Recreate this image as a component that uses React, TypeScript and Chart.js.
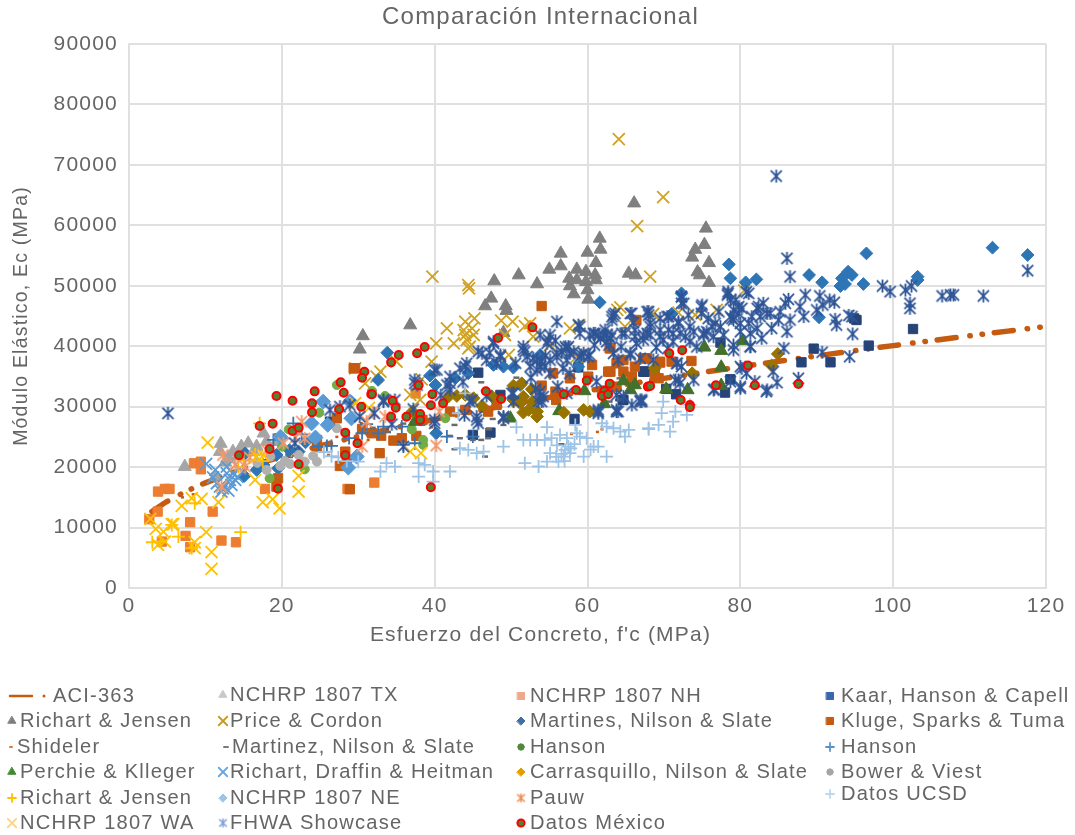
import React, { useEffect, useRef } from "react";
import { Chart, registerables } from "chart.js";
import { drawPoint } from "chart.js/helpers";

Chart.register(...registerables);

type P = number[];

const aci363: P[] = [[3,12650],[5,14324],[7.5,15992],[10,17399],[15,19758],[20,21747],[25,23500],[30,25084],[35,26541],[40,27898],[45,29171],[50,30376],[60,32617],[70,34677],[80,36595],[90,38396],[100,40100],[110,41721],[120,43269]];

const nchrpTX: P[] = [[7.3,20080],[12,23900],[11.9,22560],[13.6,22560],[14.7,23400],[15.6,23940],[16.7,23400],[17.6,25590],[11.3,18430],[13,21500],[14.2,21800],[16.3,22500],[18,24200],[19.3,24200],[12.6,20800]];

const nchrpNH: P[] = [[3.8,15950],[4.7,16390],[5.3,16390],[3.75,12640],[2.66,11380],[8,10880],[7.4,8620],[8,6750],[10.95,12640],[12.1,7850],[14,7570],[8.5,20630],[9.4,20900],[9.4,19640],[17.8,16390],[28.6,16390],[4.3,7680],[32.1,17440],[37.5,32200]];

const kaar: P[] = [[45.7,35630],[48.6,31940],[47.3,25710],[45,25330],[58.3,27970],[64.7,31110],[67.3,35800],[95.2,44340],[102.6,42850],[96.8,40100],[89.6,39600],[91.8,37340],[88,37340],[77.4,40600],[78.7,34530],[78,32330],[71.6,32050],[70.3,32940],[67.4,35800],[26.3,27520],[58.8,36500],[64.6,31100],[67.5,35790],[94.9,44600]];

const richartJensenA: P[] = [[30.6,41700],[30.2,39490],[36.8,43500],[47.8,50780],[51,51770],[53.4,50290],[56.5,55360],[55,52710],[56.5,53260],[61.6,57840],[61.7,56020],[60,55520],[61.1,53810],[58.6,52710],[59.8,52330],[61,51770],[57.6,51220],[58.6,50950],[59.8,50670],[61.1,50950],[57.7,49960],[60,49300],[58.2,48630],[60.1,47750],[47.4,47920],[46.6,46650],[49.3,46650],[49.4,45880],[49,42240],[65.4,52050],[66.3,51770],[75.5,59500],[75.3,56800],[74.1,56000],[73.7,54700],[75.9,53800],[74.4,52270],[74.7,51780],[75.9,50510],[66.1,63670]];

const priceCordon: P[] = [[39.7,51500],[44.4,50120],[44.5,49570],[41.6,42960],[44,44060],[45.2,44610],[43.8,42680],[44.9,42960],[44,41860],[45.1,41860],[44.2,41030],[44.6,39930],[42.5,40480],[40.2,40480],[44.4,39650],[48.7,44230],[50.2,44060],[49.2,41860],[49.7,38550],[39.6,37450],[51.8,43340],[52.5,43780],[52.9,41580],[57.7,42960],[55.1,40200],[58.6,38280],[32.9,35800],[32.4,34970],[30.9,33870],[35,37450],[29.6,36350],[38.3,34530],[36.8,31940],[38.1,31110],[64.3,46430],[64.9,43240],[68.2,51500],[66.5,59880],[64.1,74260],[69.9,64670],[80.5,49190],[76.9,46000],[71.9,45550],[74.1,45170],[68.6,45330],[58.9,43500],[63.9,46000]];

const martines: P[] = [[78.5,53540],[78.7,51230],[80.7,50570],[82.1,51060],[89,51780],[90.7,50570],[94.1,52330],[94.6,51780],[93.3,51230],[93.1,49960],[93.7,50290],[96.5,55360],[96.1,50290],[103.2,51500],[103.2,50950],[113,56300],[117.6,55090],[90.3,44780],[72.3,48750],[71,45330],[61.6,47260],[33.8,38940],[50.3,36460],[51.2,33590],[39.4,35130],[40.1,33590],[44.4,35520],[32.6,34420],[42.7,34690],[47.7,36900],[49,36620],[58.8,36620],[53.8,38550],[40.2,25600],[29.8,21860],[29.1,30840],[22.2,22560],[19.3,22000],[19.5,19800],[15.2,22280],[17.6,20360],[15.1,18540],[16.7,19530],[21,22800],[23.1,24100]];

const kluge: P[] = [[54,46650],[29.6,36350],[42,29180],[44,29460],[47,29180],[48.1,30290],[54,33480],[55.8,32490],[55.9,31110],[55.5,35520],[57.7,34690],[60.1,34970],[60.6,36900],[62.7,35800],[63.8,37170],[64.7,37720],[64.7,35800],[65.8,34970],[66.2,36620],[67.8,38000],[66.4,44340],[62.9,39650],[34.6,24390],[35.7,24780],[37.6,25160],[31.8,25600],[32.8,22300],[28.9,16340],[19.5,18150],[19.3,16780],[24.6,24490],[24.6,23390],[27.2,28070],[28.3,22560],[27.6,20190],[29.4,36340],[28.5,21180],[73.6,37560],[69.5,37290],[71,37450],[68.8,35800],[69.3,34700],[67.5,38000],[63,35790],[65.8,34690],[68.8,35510],[69.5,37440],[67.3,37990],[63,39650],[61.9,32480],[63.8,33310],[30.5,26300],[33,25200],[38.4,27800]];

const shideler: P[] = [[57.7,25490],[61.1,25820],[61.7,26260],[39.4,26600],[39.4,27530],[30.2,27260],[30.7,26430],[31.1,24500],[19,25430],[25.9,22010],[28.5,24490],[21.3,21900],[8.2,15500],[4.9,14300],[6.8,15000],[24.2,25600],[27,25000]];

const martinez: P[] = [[45.7,34030],[50.3,34800],[42.2,26980],[42.9,24780],[44.6,24500],[45.7,24500],[42.2,22960],[46.2,21740],[47.2,27970],[46.7,26260],[48.6,26980],[46.6,24780],[56.2,23780],[63.8,34690],[63.6,31110],[62.5,30840],[41.6,25160],[31.5,26500],[33.5,25800],[35.5,27200],[38,27000],[29.5,24500]];

const hansonCircles: P[] = [[27.2,33580],[24.9,29000],[20.9,26250],[20,23390],[23,19640],[18.4,18150],[33.5,31770],[37,26260],[38.5,24500],[38.5,23670],[41.4,28080],[31.8,32600]];

const hansonPlus: P[] = [[21.5,27240],[20.2,24760],[18.9,24490],[24.8,23390],[25.9,23500],[26.5,23500],[20.6,21620],[30.5,25600],[32.6,25600],[35.7,26700],[37.4,23950],[35.9,23670],[41.6,25050],[45,25050],[33.3,26700],[28.8,24800],[31.1,27100],[22.6,25400]];

const perchie: P[] = [[59.6,32600],[56.3,29300],[64.7,34250],[66.2,33590],[65.6,32760],[62.2,30450],[49.9,28080],[37.2,29020],[37.4,27530],[75.3,39820],[77.5,39270],[80.3,40870],[77.5,36520],[77.5,33490],[73.1,32770],[70.3,32880]];

const richartDraffin: P[] = [[10.1,20520],[11.3,19530],[11.9,16780],[13.2,17880],[13.9,17880],[12.8,18980],[12.3,16500],[13.6,18980],[14.5,19800],[11.5,17330],[12.8,20080],[12.1,15950],[13.4,17050],[14.2,18400],[11,18300],[13,16100]];

const carrasquillo: P[] = [[50.3,33480],[51.4,33870],[41.8,31660],[42.9,31770],[44,31940],[45.1,31390],[46.2,30120],[47.5,31660],[51.6,31660],[51.2,30560],[50.3,31110],[52.7,32880],[52.8,30840],[51.6,29020],[52.3,29460],[53.4,29180],[53.4,28360],[59.5,29460],[60.3,29180],[56.9,29020],[84.9,38720],[84.1,36790],[73.7,35530],[68.8,36350],[37.1,29200]];

const bower: P[] = [[21.1,20520],[24.1,21850],[24.6,20900],[27.2,26420],[18.5,21730],[19.8,20190],[18,19530],[22.2,22000],[20.4,21000],[23,20900],[16.8,20700]];

const richartJensenB: P[] = [[3.05,7570],[6.46,8510],[14.6,9230],[8.6,14020],[17.1,27240],[8.2,6580],[5.6,10440],[4.1,7690],[15,21100],[16.5,22100],[14.3,20000],[17.5,21000]];

const nchrpNE: P[] = [[23.9,27240],[25.4,30830],[28.9,30830],[29.1,28070],[29.8,21730],[28.7,19920],[26,27000],[24.4,24900],[19.8,25000]];

const pauw: P[] = [[12.3,22000],[13.9,20360],[15.2,20080],[18,22840],[20.2,23940],[22.6,27520],[23,24760],[12.1,16780],[40.2,23560],[31.1,27530],[33.5,28360],[30.5,23400],[49,28200],[40.6,29180],[15.8,21600],[21.8,24900],[31.9,29100]];

const ucsd: P[] = [[50.7,26600],[54.7,26600],[51.6,24500],[52.5,24500],[53.4,24500],[54.4,24500],[55.3,24780],[56.4,25330],[57.3,24780],[58.4,26980],[58.6,25600],[59,25050],[59.9,24780],[60.8,23400],[61.4,23400],[61.9,27260],[62.5,26700],[63.4,26430],[64.3,25880],[65.4,26150],[64.9,25050],[68,26270],[62.5,21750],[59.5,21750],[57.7,22300],[57.1,22850],[57.5,23400],[56.9,21750],[56.2,20920],[55.1,22300],[54.7,20920],[53.6,20100],[51.8,20650],[44,32210],[43.1,28910],[43.3,23120],[44.4,22850],[45.5,22300],[46.4,22570],[49,23400],[39.8,19270],[39.8,17610],[37.9,18440],[37.9,20650],[38.7,20370],[42,19270],[34.8,20090],[33.7,20650],[32.9,19270],[69.9,30840],[69.7,28920],[71.5,29190],[73,28640],[73.4,30290],[70.8,25880],[69.3,26990],[68,26430],[71.2,27540],[56.6,22200],[57,21000],[57.8,23100],[56,23600],[58.3,23800],[60.4,22900],[55.9,21700],[28.5,21000],[30,20900],[26.5,21800],[27.4,21600],[25.5,22500]];

const nchrpWA: P[] = [[10.3,24050],[6.9,13580],[8.2,14850],[9.5,14740],[11.7,14190],[16.5,17880],[17.5,14190],[18.8,14680],[19.7,13190],[22.2,18540],[22.2,15950],[2.8,11430],[3.5,9770],[4.5,9330],[5.6,10550],[5.8,10550],[10.1,9230],[8.6,7570],[8.6,6580],[10.8,5920],[10.8,3170],[4.7,7680],[3.8,7130],[16.7,21730],[17.6,22000],[36.8,22570],[38.2,22300],[31.4,29800],[29.6,30600]];

const fhwa: P[] = [[84.7,68150],[117.6,52500],[86.1,54540],[86.5,51500],[98.6,49960],[99.6,49030],[101.6,49300],[102.4,49960],[102.2,47100],[102.2,46270],[106.4,48310],[107.5,48480],[107.9,48480],[111.8,48310],[88.5,48480],[90.4,48310],[91.7,47650],[92.3,47260],[87.8,46550],[90,46000],[90.8,46820],[86.3,47760],[85.9,47100],[92.4,44450],[92.6,43510],[94.6,44890],[94.2,45100],[94.7,42030],[94.3,38280],[90.7,39000],[85.7,39660],[87.6,34700],[84.8,33980],[83.5,32770],[83.4,32500],[81.9,34150],[80,33050],[76.6,32880],[84.3,35800],[80.8,35530],[80,36630],[78.4,49030],[78.3,48480],[79.4,47650],[79.8,46550],[81.1,48750],[82.4,46550],[83.5,45440],[83.9,45440],[86.5,44340],[85,44340],[86.1,42410],[84.1,42960],[82.8,41310],[81.3,39940],[80,42410],[82.2,42960],[82.6,44890],[81.1,43790],[79.1,44340],[78.7,44890],[79.8,45440],[77.4,43240],[76.3,43240],[75,46820],[75.2,42140],[72.3,48200],[72.3,47100],[68,45720],[70.6,44890],[71.9,43790],[73.4,43240],[68.2,43790],[70.6,42690],[72.1,42140],[73.4,40760],[71.2,40760],[69.5,41590],[68.2,41860],[67.3,41040],[68.6,37730],[71.7,37180],[72.3,36630],[71.9,34420],[73.9,34420],[79.1,39380],[67.1,30840],
[56,44060],[59,43240],[60.8,42130],[62.5,41860],[63.4,45160],[63.2,44340],[65.8,45440],[67.8,45720],[66.2,42680],[61.7,41300],[62.5,40750],[64.5,42130],[66.4,40480],[67.8,42130],[65.6,38550],[63.4,38830],[60.3,38550],[57.3,39650],[56,38280],[53.8,36620],[53.4,37720],[51.6,39380],[47.7,40750],[45.7,39100],[48.6,38280],[46.8,37720],[44,36620],[40,36070],[42,33870],[37.4,33870],[44.6,30840],[42,32770],[50.1,32210],[50.3,30840],[53.8,31660],[54,30840],[49,28360],[45.5,27800],[40,27260],[35.9,23400],[33.3,31110],[34.8,31110],[30.2,28360],[63.8,29180],[61.4,29460],[66.9,30840],[57.3,37720],[59.5,38830],[55.1,35520],[53.4,36070],[52.5,36620],[52.1,38280],[54.7,40480],[53.8,41860],[57.3,32210],[5.1,28900],[26.3,29450],[27.6,30000],[28.9,30280],[21.7,23940],
[58.8,43500],[61,42130],[62.1,41850],[63,41300],[63.2,44880],[63.6,45430],[65.6,45430],[68,45160],[68.2,43230],[67.3,41850],[66.2,41580],[64.9,42130],[69.5,44600],[70.4,44880],[71.9,44050],[73.2,45160],[74.9,46530],[74.9,45430],[72.6,47090],[72.3,48190],[73.9,42400],[72.8,41580],[71.2,42130],[69.5,42680],[69.9,41030],[75.6,42400],[76.7,43780],[78.9,44600],[79.1,45980],[78.7,47640],[78.4,48740],[80.8,49010],[80.2,46260],[80,43780],[81.5,44880],[82.2,46260],[81.3,42130],[79.1,40200],[81.3,39920],[77.8,41850],[76.5,41580],[75.2,41850],[57.1,39920],[57.7,38820],[59.2,38540],[60.1,38270],[64,37720],[65.6,38820],[66.9,38000],[71.7,37170],[57.7,35510],[61.2,34140],[71.5,34410],[72.1,33860],[76.5,32760],[80,33310],[80.2,36340],[78.7,34140],[66.9,31100],[63.8,31930],[64,29180],[61.4,29180],[65.8,30280],[64.7,31660],[56.8,36340],[56.6,39100],[59,42130],
[47.2,38900],[50.6,37200],[55.8,40900],[54.5,38400],[60.9,40200],[62.8,40200],[64.4,39900],[66,43900],[69,39800],[70.5,39600],[74.3,39900],[75.8,44600],[77.2,45700],[83,47100],[85.2,45700],[88.3,44900],[56.1,33300],[53.2,32900],[46.8,31800],[43.7,34100],[37.2,29600],[34.4,27100],[32.1,28900],[43.9,28600],[40.8,31900],[52.6,34800],
[55.1,41860],[54.9,41030],[51.6,39930],[51.8,39100],[52.9,38000],[54,37450],[55.1,37720],[54.4,36620],[56,38830],[57.5,39930],[58.2,39100],[59,38280],[60.3,41860],[61.4,41860],[62.3,42680],[63.2,41860],[47.7,40480],[48.6,38550],[48.1,37170],[46.2,38830],[44.2,37170],[43.3,36350],[42,34970],[41.6,33590],[40.3,36070],[37.4,34420],[37.7,33590],[44.9,31110],[45.5,28360],[45.7,27260],[49,28080],[50.3,32210],[53.8,32500],[53.6,30840],[54.2,31660],[61.4,28910],[63.8,29460],[67.1,31110],[40,27800],[33.3,30840]];

const mexico: P[] = [[35.3,38540],[34.3,37330],[30.8,35780],[30.5,34790],[27.7,34020],[28.1,32310],[24.3,32530],[19.3,31760],[21.4,30990],[23.95,30550],[23.95,29060],[31.7,32040],[34.5,30990],[34.9,29830],[30.4,30000],[27.5,29560],[34.3,28340],[36.3,28340],[17.1,26800],[18.8,27190],[21.4,25980],[22.2,26530],[28.3,25700],[29.9,23940],[18.4,23000],[14.4,21950],[22.2,20460],[28.3,21950],[19.5,16440],[37.7,38830],[38.7,39870],[48.3,41360],[52.8,43120],[37.9,33540],[31.8,32050],[39.7,32050],[39.5,30230],[41.1,30560],[38.1,28800],[38.1,27800],[46.7,32540],[48.7,31280],[56.9,32050],[58.5,32770],[59.9,34310],[62.9,33810],[62.2,32600],[61.9,31770],[62.7,32050],[67.9,33320],[39.5,16680],[70.7,38830],[72.4,39330],[68.2,33430],[72.2,31110],[73.4,30290],[73.4,29900],[76.8,33540],[81,36790],[81.9,33540],[87.6,33760]];

const xTicks = { min: 0, max: 120, step: 20 };
const yTicks = { min: 0, max: 90000, step: 10000 };

const TEXT = "#656565";
const FONT = "'Liberation Sans', Arial, sans-serif";
const GRID = "#e0e0e0";

// name, data, pointStyle, colour, radius, border width, legend colour, legend radius, legend marker x, legend text x, legend y
const series: any[] = [
  ["NCHRP 1807 TX", nchrpTX, "triangle", "#a5a5a5", 7.5, 1, "#c8c8c8", 4.5, 223, 230, 695],
  ["NCHRP 1807 NH", nchrpNH, "rect", "#ed7d31", 6.6, 1, "#eea98c", 5, 521, 530, 696],
  ["Kaar, Hanson & Capell", kaar, "rect", "#264478", 6.6, 1, "#3a66ad", 5, 830, 841, 696],
  ["Richart & Jensen", richartJensenA, "triangle", "#7f7f7f", 7.5, 1, "#7f7f7f", 4.5, 12, 20, 721],
  ["Price & Cordon", priceCordon, "crossRot", "#d0a220", 8.5, 1.8, "#c79a20", 6, 223, 230, 721],
  ["Martines, Nilson & Slate", martines, "rectRot", "#2e75b6", 6.4, 1, "#3f6fa5", 4, 521, 530, 721],
  ["Kluge, Sparks & Tuma", kluge, "rect", "#c55a11", 6.6, 1, "#c55a11", 5, 830, 841, 721],
  ["Shideler", shideler, "dash", "#c55a11", 3, 2.5, "#e2753a", 2, 10, 17, 747],
  ["Martinez, Nilson & Slate", martinez, "dash", "#6a6a6a", 6, 2.5, "#7a7a7a", 4, 224, 232, 747],
  ["Hanson", hansonCircles, "circle", "#70ad47", 4.5, 1, "#4f8a3a", 3.2, 521, 530, 747],
  ["Hanson", hansonPlus, "cross", "#3a74b0", 6.5, 1.8, "#5b93c5", 4, 830, 841, 747],
  ["Perchie & Klleger", perchie, "triangle", "#43702a", 7.5, 1, "#3f8a30", 4.5, 12, 20, 772],
  ["Richart, Draffin & Heitman", richartDraffin, "crossRot", "#5b9bd5", 8.5, 1.8, "#6aa5e0", 6, 223, 230, 772],
  ["Carrasquillo, Nilson & Slate", carrasquillo, "rectRot", "#997300", 6.4, 1, "#e0a000", 4, 521, 530, 772],
  ["Bower & Viest", bower, "circle", "#b0b0b0", 4.5, 1, "#a5a5a5", 3.2, 830, 841, 772],
  ["Richart & Jensen", richartJensenB, "cross", "#ffc000", 6.5, 1.8, "#ffc000", 4, 12, 20, 798],
  ["NCHRP 1807 NE", nchrpNE, "rectRot", "#5b9bd5", 7.5, 1, "#9dc3e6", 4, 223, 230, 798],
  ["Pauw", pauw, "star", "#f2986a", 6.5, 1.8, "#ee8b50", 4.5, 521, 530, 798],
  ["Datos UCSD", ucsd, "cross", "#9dc3e6", 6.5, 1.8, "#bdd7ee", 4, 830, 841, 794],
  ["NCHRP 1807 WA", nchrpWA, "crossRot", "#ffc000", 8.5, 1.8, "#ffd58a", 6, 12, 20, 823],
  ["FHWA Showcase", fhwa, "star", "#2f5597", 6.5, 1.8, "#7f9fd8", 4.5, 223, 230, 823],
  ["Datos México", mexico, "circle", "#548235", 4, 2, "#548235", 3.6, 521, 530, 823],
];

// Excel's "star" marker: an X with a vertical bar through it.
function starImage(color: string, r: number, lw: number) {
  const size = Math.ceil(r * 2 + 2);
  const c = document.createElement("canvas");
  c.width = size;
  c.height = size;
  const g = c.getContext("2d") as CanvasRenderingContext2D;
  const m = size / 2;
  const d = r * 0.85;
  g.strokeStyle = color;
  g.lineWidth = lw;
  g.beginPath();
  g.moveTo(m - d, m - d); g.lineTo(m + d, m + d);
  g.moveTo(m + d, m - d); g.lineTo(m - d, m + d);
  g.moveTo(m, m - r); g.lineTo(m, m + r);
  g.stroke();
  return c;
}

const legendPlugin = {
  id: "columnLegend",
  afterLayout(chart: any) {
    if (chart.titleBlock) chart.titleBlock.left = 35;
    const xs = chart.scales.x;
    if (!xs.__shifted) {
      const base = xs.drawTitle;
      xs.drawTitle = function () {
        const l = this.left;
        const r = this.right;
        this.left = 35;
        this.right = 1046;
        base.call(this);
        this.left = l;
        this.right = r;
      };
      xs.__shifted = true;
    }
  },
  beforeDraw(chart: any) {
    chart.ctx.letterSpacing = "1.2px";
  },
  afterDraw(chart: any) {
    const ctx = chart.ctx;
    ctx.save();
    ctx.font = `20.1px ${FONT}`;
    ctx.fillStyle = TEXT;
    ctx.textBaseline = "middle";
    ctx.textAlign = "left";
    ctx.fillText("ACI-363", 53, 696);
    ctx.strokeStyle = "#c55a11";
    ctx.lineWidth = 2.5;
    ctx.lineCap = "round";
    ctx.beginPath(); ctx.moveTo(10, 696); ctx.lineTo(32, 696); ctx.stroke();
    ctx.fillStyle = "#c55a11";
    ctx.beginPath(); ctx.arc(44, 696, 1.5, 0, Math.PI * 2); ctx.fill();
    for (const s of series) {
      const [name, , style, color, , bw, lc, lr, mx, tx, ly] = s;
      ctx.save();
      const isMexico = name === "Datos México";
      ctx.fillStyle = isMexico ? color : lc;
      ctx.strokeStyle = isMexico ? "#ff0000" : lc;
      ctx.lineWidth = Math.min(bw, 2);
      const ps = style === "star" ? starImage(lc, lr, 1.5) : style;
      drawPoint(ctx, { pointStyle: ps, radius: lr, rotation: 0, borderWidth: isMexico ? 2 : 1.4 }, mx, ly);
      ctx.restore();
      ctx.fillStyle = TEXT;
      ctx.fillText(name, tx, ly);
    }
    ctx.restore();
  },
};

export default function App() {
  const ref = useRef<HTMLCanvasElement>(null);
  useEffect(() => {
    const datasets: any[] = series.map((s, i) => {
      const [name, data, style, color, r, bw] = s;
      const isMexico = name === "Datos México";
      return {
        type: "scatter",
        label: name,
        data: data.map((p: P) => ({ x: p[0], y: p[1] })),
        pointStyle: style === "star" ? starImage(color, r, bw) : style,
        pointRadius: r,
        pointBorderWidth: bw,
        pointBackgroundColor: color,
        pointBorderColor: isMexico ? "#ff0000" : color,
        showLine: false,
        order: 100 - i,
      };
    });
    datasets.unshift({
      type: "line",
      label: "ACI-363",
      data: aci363.map((p) => ({ x: p[0], y: p[1] })),
      borderColor: "#c55a11",
      borderWidth: 5.5,
      borderCapStyle: "round",
      borderDash: [19, 14, 0.5, 12, 0.5, 11.7],
      pointRadius: 0,
      tension: 0.3,
      fill: false,
      order: 200,
    });
    const chart = new Chart(ref.current as HTMLCanvasElement, {
      type: "scatter",
      data: { datasets },
      plugins: [legendPlugin],
      options: {
        animation: false,
        responsive: false,
        devicePixelRatio: 1,
        layout: { padding: { left: 0, right: 29, top: 0, bottom: 187 } },
        plugins: {
          legend: { display: false },
          tooltip: { enabled: false },
          title: {
            display: true,
            text: "Comparación Internacional",
            color: TEXT,
            font: { family: FONT, size: 24, weight: "normal" },
            padding: { top: 2.6, bottom: 12.6 },
          },
        },
        scales: {
          x: {
            type: "linear",
            min: xTicks.min,
            max: xTicks.max,
            afterFit: (s: any) => { s.height = 60; },
            grid: { color: GRID, lineWidth: 2, drawTicks: false },
            border: { color: GRID, width: 2 },
            ticks: { stepSize: xTicks.step, color: TEXT, padding: 6, maxRotation: 0, font: { family: FONT, size: 21 } },
            title: { display: true, text: "Esfuerzo del Concreto, f'c (MPa)", color: TEXT, padding: { top: 0, bottom: 0 }, font: { family: FONT, size: 21 } },
          },
          y: {
            type: "linear",
            min: yTicks.min,
            max: yTicks.max,
            afterFit: (s: any) => { s.width = 129; },
            grid: { color: GRID, lineWidth: 2, drawTicks: false },
            border: { color: GRID, width: 2 },
            ticks: { stepSize: yTicks.step, color: TEXT, padding: 11, font: { family: FONT, size: 21 }, callback: (v: any) => String(v) },
            title: { display: true, text: "Módulo Elástico, Ec (MPa)", color: TEXT, padding: { top: 10, bottom: 0 }, font: { family: FONT, size: 19.5 } },
          },
        },
      } as any,
    } as any);
    return () => chart.destroy();
  }, []);
  return (
    <div style={{ position: "absolute", left: 0, top: 0, width: 1075, height: 835, background: "#fff" }}>
      <canvas ref={ref} width={1075} height={835} style={{ display: "block", filter: "blur(0.45px)" }} />
    </div>
  );
}
